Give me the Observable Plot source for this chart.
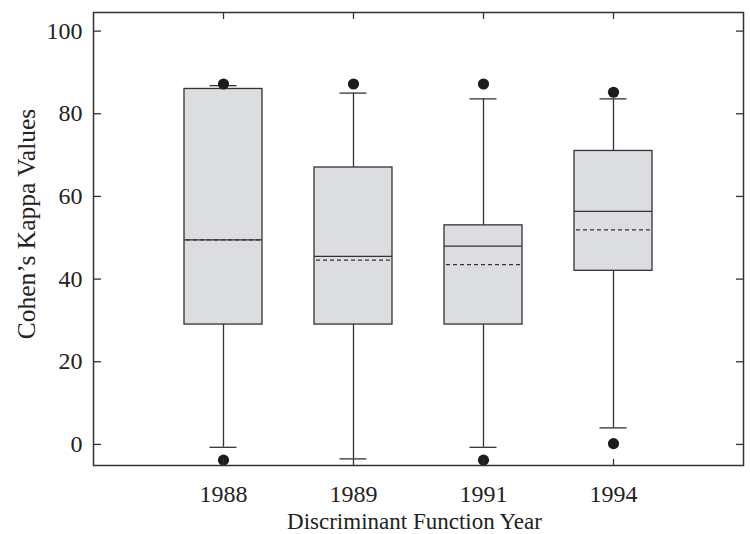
<!DOCTYPE html>
<html><head><meta charset="utf-8">
<script src="https://cdn.jsdelivr.net/npm/d3@7"></script>
<script src="https://cdn.jsdelivr.net/npm/@observablehq/plot@0.6"></script>
<style>body{margin:0;background:#fff}</style>
</head><body><div id="chart"></div>
<script>
const years = ["1988", "1989", "1991", "1994"];
const q1 = [29, 29, 29, 42];
const q3 = [86, 67, 53, 71];
const medians = [49.5, 45.5, 48, 56.4];
const means = [49.5, 44.6, 43.5, 51.9];
const whiskerLow = [-0.7, -3.5, -0.7, 4.0];
const whiskerHigh = [86.8, 85, 83.6, 83.6];
const outlierYears = ["1988", "1988", "1989", "1991", "1991", "1994", "1994"];
const outlierValues = [87.2, -3.8, 87.2, 87.2, -3.8, 85.2, 0.2];
const yTicks = [0, 20, 40, 60, 80, 100];
const yLabel = "Cohen’s Kappa Values";
const xLabel = "Discriminant Function Year";

const boxes = years.map((year, i) => ({year, q1: q1[i], q3: q3[i], median: medians[i], mean: means[i], lo: whiskerLow[i], hi: whiskerHigh[i]}));
const outliers = outlierYears.map((year, i) => ({year, value: outlierValues[i]}));

const ink = "#333";
const textInk = "#222";
const font = "'Liberation Serif', 'DejaVu Serif', serif";

const chart = Plot.plot({
  width: 750, height: 534,
  marginLeft: 93, marginRight: 7, marginTop: 12, marginBottom: 69,
  style: {fontFamily: font, fontSize: "24px", color: textInk, background: "#fff"},
  x: {type: "band", domain: years, paddingInner: 0.4, paddingOuter: 0.7, label: null},
  y: {domain: [-5.1, 104.5], label: null},
  marks: [
    Plot.ruleX(boxes, {x: "year", y1: "lo", y2: "hi", stroke: ink, strokeWidth: 1.3}),
    Plot.tickY(boxes, {x: "year", y: "lo", stroke: ink, strokeWidth: 1.3, insetLeft: 25.5, insetRight: 25.5}),
    Plot.tickY(boxes, {x: "year", y: "hi", stroke: ink, strokeWidth: 1.3, insetLeft: 25.5, insetRight: 25.5}),
    Plot.barY(boxes, {x: "year", y1: "q1", y2: "q3", fill: "#dcdde0", stroke: ink, strokeWidth: 1.3}),
    Plot.tickY(boxes, {x: "year", y: "median", stroke: ink, strokeWidth: 1.3}),
    Plot.tickY(boxes, {x: "year", y: "mean", stroke: ink, strokeWidth: 1.3, strokeDasharray: "4,3", insetLeft: 2, insetRight: 2}),
    Plot.dot(outliers, {x: "year", y: "value", r: 5.6, fill: "#1c1c1c"}),
    Plot.frame({stroke: ink, strokeWidth: 1.5}),
    // inward tick marks
    Plot.axisY({ticks: yTicks, anchor: "right", frameAnchor: "left", tickSize: 7, fill: "none", stroke: ink, strokeWidth: 1.3, label: null}),
    Plot.axisY({ticks: yTicks, anchor: "left", frameAnchor: "right", tickSize: 7, fill: "none", stroke: ink, strokeWidth: 1.3, label: null}),
    Plot.axisX({anchor: "top", frameAnchor: "bottom", tickSize: 7, fill: "none", stroke: ink, strokeWidth: 1.3, label: null}),
    Plot.axisX({anchor: "bottom", frameAnchor: "top", tickSize: 7, fill: "none", stroke: ink, strokeWidth: 1.3, label: null}),
    // tick labels
    Plot.axisY({ticks: yTicks, anchor: "left", tickSize: 0, tickPadding: 11, label: null, fill: textInk, fontSize: 24}),
    Plot.axisX({anchor: "bottom", tickSize: 0, tickPadding: 19, label: null, fill: textInk, fontSize: 24}),
    // axis titles
    Plot.text([yLabel], {text: d => d, frameAnchor: "left", textAnchor: "middle", lineAnchor: "middle", rotate: -90, dx: -67, dy: -15, fill: textInk, fontSize: 25.5}),
    Plot.text([xLabel], {text: d => d, frameAnchor: "bottom", textAnchor: "middle", lineAnchor: "middle", dx: -4, dy: 56, fill: textInk, fontSize: 23})
  ]
});
document.getElementById("chart").appendChild(chart);
</script>
</body></html>
